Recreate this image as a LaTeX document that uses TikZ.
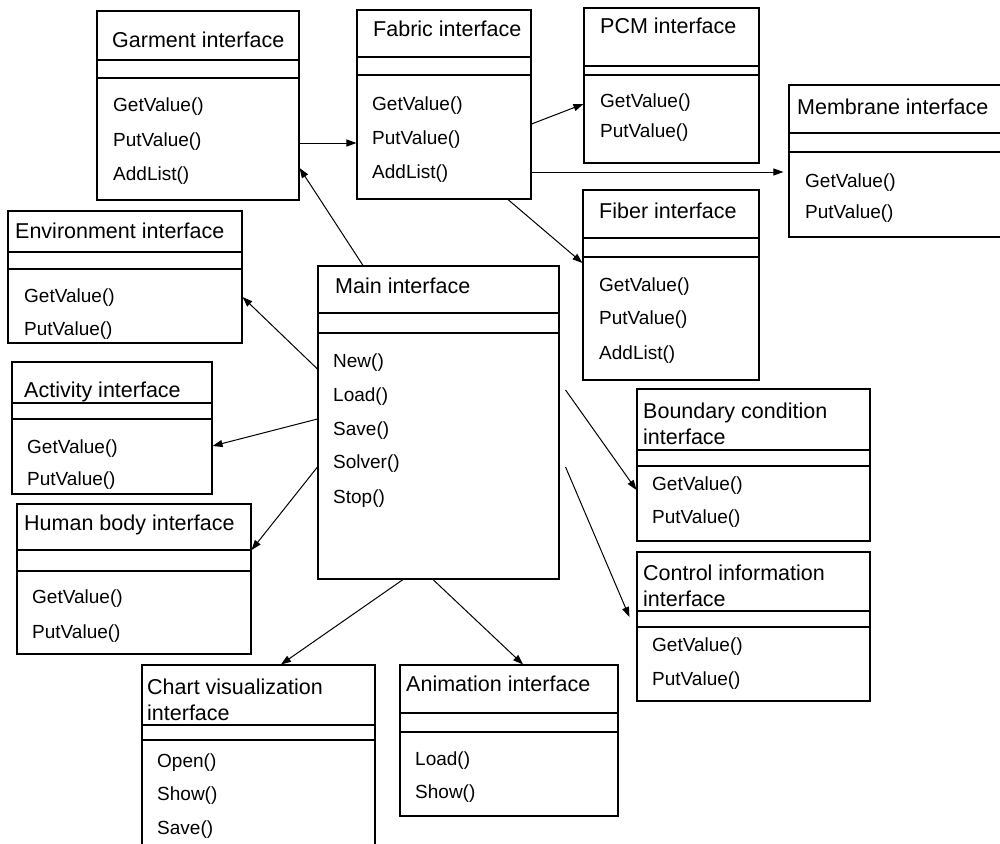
\documentclass[tikz,border=0pt]{standalone}
\usepackage{fontspec}
\setmainfont{Liberation Sans}
\usetikzlibrary{arrows.meta,fit,calc}

\tikzset{
  umlbox/.style={draw, line width=1.1pt, inner sep=0pt, rectangle},
  umlline/.style={line width=1.1pt},
  ttl/.style={anchor=base west, inner sep=0pt, align=left,
    font=\fontsize{21.5}{26}\selectfont},
  mth/.style={anchor=base west, inner sep=0pt,
    font=\fontsize{19}{22}\selectfont},
  arr/.style={line width=1pt, -{Triangle[length=10pt,width=7pt]}},
}

% class box: name, x1, y1, x2, y2, first separator y, second separator y
\newcommand{\classbox}[7]{%
  \node[umlbox, fit={(#2,#3) (#4,#5)}] (#1) {};
  \draw[umlline] (#1.west |- 0,#6) -- (#1.east |- 0,#6)
                 (#1.west |- 0,#7) -- (#1.east |- 0,#7);
}

\begin{document}
\begin{tikzpicture}[x=1pt, y=-1pt]
\useasboundingbox (0,0) rectangle (1000,843);
\fill[white] (0,0) rectangle (1000,843);

% boxes
\classbox{garment}{97}{11}{299}{200}{60}{78}
\classbox{fabric}{357}{10}{531}{199}{57}{75}
\classbox{pcm}{584}{8}{759}{163}{66}{75}
\classbox{membrane}{789}{85}{1012}{237}{133}{152}
\classbox{fiber}{583}{190}{759}{380}{238}{257}
\classbox{environment}{8}{211}{242}{343}{252}{269}
\classbox{activity}{12}{362}{212}{494}{403}{419}
\classbox{human}{17}{504}{251}{654}{550}{571}
\classbox{main}{318}{266}{559}{579}{313}{333}
\classbox{boundary}{637}{389}{870}{541}{450}{466}
\classbox{control}{637}{552}{870}{701}{611}{627}
\classbox{chart}{142}{665}{375}{870}{725}{740}
\classbox{animation}{400}{665}{618}{816}{713}{732}

% titles (two-line titles are placed by the baseline of their last line)
\node[ttl] (garment-t) at (112,48) {Garment interface};
\node[ttl] (fabric-t) at (373,37) {Fabric interface};
\node[ttl] (pcm-t) at (600,34) {PCM interface};
\node[ttl] (membrane-t) at (797,114) {Membrane interface};
\node[ttl] (fiber-t) at (599,218) {Fiber interface};
\node[ttl] (environment-t) at (15,238) {Environment interface};
\node[ttl] (activity-t) at (24,397) {Activity interface};
\node[ttl] (human-t) at (24,530) {Human body interface};
\node[ttl] (main-t) at (335,293) {Main interface};
\node[ttl] (boundary-t) at (643,444) {Boundary condition\\interface};
\node[ttl] (control-t) at (643,606) {Control information\\interface};
\node[ttl] (chart-t) at (147,720) {Chart visualization\\interface};
\node[ttl] (animation-t) at (406,691) {Animation interface};

% operations
\foreach \t/\y [count=\i] in {GetValue()/111, PutValue()/146, AddList()/180}
  \node[mth] (garment-m\i) at (113,\y) {\t};
\foreach \t/\y [count=\i] in {GetValue()/110, PutValue()/144, AddList()/178}
  \node[mth] (fabric-m\i) at (372,\y) {\t};
\foreach \t/\y [count=\i] in {GetValue()/107, PutValue()/137}
  \node[mth] (pcm-m\i) at (600,\y) {\t};
\foreach \t/\y [count=\i] in {GetValue()/187, PutValue()/218}
  \node[mth] (membrane-m\i) at (805,\y) {\t};
\foreach \t/\y [count=\i] in {GetValue()/291, PutValue()/324, AddList()/359}
  \node[mth] (fiber-m\i) at (599,\y) {\t};
\foreach \t/\y [count=\i] in {GetValue()/302, PutValue()/335}
  \node[mth] (environment-m\i) at (24,\y) {\t};
\foreach \t/\y [count=\i] in {GetValue()/453, PutValue()/485}
  \node[mth] (activity-m\i) at (27,\y) {\t};
\foreach \t/\y [count=\i] in {GetValue()/603, PutValue()/638}
  \node[mth] (human-m\i) at (32,\y) {\t};
\foreach \t/\y [count=\i] in {New()/367, Load()/401, Save()/435, Solver()/468, Stop()/503}
  \node[mth] (main-m\i) at (333,\y) {\t};
\foreach \t/\y [count=\i] in {GetValue()/490, PutValue()/523}
  \node[mth] (boundary-m\i) at (652,\y) {\t};
\foreach \t/\y [count=\i] in {GetValue()/651, PutValue()/685}
  \node[mth] (control-m\i) at (652,\y) {\t};
\foreach \t/\y [count=\i] in {Open()/767, Show()/800, Save()/834}
  \node[mth] (chart-m\i) at (157,\y) {\t};
\foreach \t/\y [count=\i] in {Load()/765, Show()/798}
  \node[mth] (animation-m\i) at (415,\y) {\t};

% connectors
\draw[arr] (garment.east |- 0,143) -- (fabric.west |- 0,143);
\draw[arr] (main.north -| 363,0) -- (garment.east |- 0,168);
\draw[arr] (fabric.east |- 0,124) -- (pcm.west |- 0,104);
\draw[arr, shorten >=5pt] (fabric.east |- 0,172) -- (membrane.west |- 0,172);
\draw[arr] (fabric.south -| 508,0) -- (fiber.west |- 0,263);
\draw[arr] (main.west |- 0,369) -- (environment.east |- 0,297);
\draw[arr] (main.west |- 0,419) -- (activity.east |- 0,446);
\draw[arr] (main.west |- 0,467) -- (human.east |- 0,550);
\draw[arr] ($(main.east |- 0,390)+(6,0)$) -- (boundary.west |- 0,490);
\draw[arr] ($(main.east |- 0,467)+(6,0)$) -- ($(control.west |- 0,617)+(-7,0)$);
\draw[arr] (main.south -| 403,0) -- (chart.north -| 281,0);
\draw[arr] (main.south -| 433,0) -- (animation.north -| 523,0);
\end{tikzpicture}
\end{document}
